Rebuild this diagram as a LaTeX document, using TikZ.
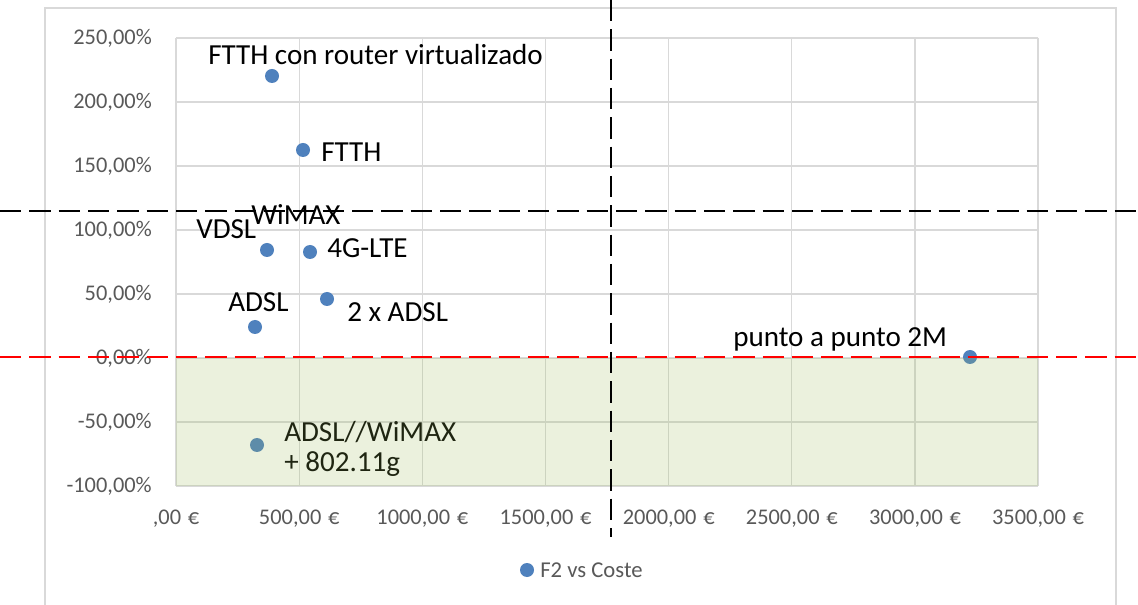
\documentclass[tikz,border=0pt]{standalone}
\usepackage{fontspec}
\setmainfont{Carlito}
\definecolor{gridgray}{HTML}{D9D9D9}
\definecolor{tickgray}{HTML}{595959}
\definecolor{dotblue}{HTML}{4F81BD}
\definecolor{zonegreen}{HTML}{9BBB59}
\begin{document}
\begin{tikzpicture}[x=0.75pt,y=-0.75pt,
  gridline/.style={draw=gridgray,line width=0.9pt},
  ptlabel/.style={font=\fontsize{21.8}{25}\selectfont,text=black,inner sep=0pt},
  ticklabel/.style={font=\fontsize{16.8}{19}\selectfont,text=tickgray,inner sep=0pt},
  datadot/.style={circle,fill=dotblue,minimum size=10.5pt,inner sep=0pt},
  blackdash/.style={draw=black,line width=2.2pt,dash pattern=on 16pt off 6pt},
  reddash/.style={draw=red,line width=2.2pt,dash pattern=on 16pt off 6pt}]
\useasboundingbox (0,0) rectangle (1138,605);
\fill[white] (0,0) rectangle (1138,605);
% chart frame
\draw[gridgray,line width=1.2pt] (45,610) -- (45,8) -- (1116,8) -- (1116,610);
% horizontal gridlines and y tick labels
\foreach \yy/\lab in {38/{250,00\%},102/{200,00\%},166/{150,00\%},230/{100,00\%},294/{50,00\%},358/{0,00\%},422/{-50,00\%},486/{-100,00\%}}{
  \draw[gridline] (176,\yy) -- (1038,\yy);
  \node[ticklabel,anchor=east] at (152,\yy) {\lab};
}
% vertical gridlines and x tick labels
\foreach \xx/\lab in {176/{,00\hspace{0.3em}€},299.2/{500,00\hspace{0.3em}€},422.3/{1000,00\hspace{0.3em}€},545.5/{1500,00\hspace{0.3em}€},668.7/{2000,00\hspace{0.3em}€},791.8/{2500,00\hspace{0.3em}€},915/{3000,00\hspace{0.3em}€},1038/{3500,00\hspace{0.3em}€}}{
  \draw[gridline] (\xx,38) -- (\xx,486);
  \node[ticklabel] at (\xx,519) {\lab};
}
% data points
\node[datadot] (frv) at (272,76) {};
\node[datadot] (ftth) at (303,150) {};
\node[datadot] (vdsl) at (267,250) {};
\node[datadot] (wimax) at (310,252) {};
\node[datadot] (adsl) at (255,327) {};
\node[datadot] (adsl2) at (327,299) {};
\node[datadot] (adslw) at (257,445) {};
\node[datadot] (p2p) at (970,357) {};
% labels
\node[ptlabel,anchor=base west] (lfrv) at (208,65) {FTTH con router virtualizado};
\node[ptlabel,anchor=base west] (lftth) at (321,162) {FTTH};
\node[ptlabel,anchor=base west] (lvdsl) at (196,239) {VDSL};
\node[ptlabel,anchor=base west] (lwimax) at (251,225) {WiMAX};
\node[ptlabel,anchor=base west] (llte) at (327,258) {4G-LTE};
\node[ptlabel,anchor=base west] (ladsl) at (228,312) {ADSL};
\node[ptlabel,anchor=base west] (ladsl2) at (347,322) {2 x ADSL};
\node[ptlabel,anchor=base west] (ladslw) at (284,442) {ADSL//WiMAX};
\node[ptlabel,anchor=base west] (ladslw2) at (284,471) {+ 802.11g};
\node[ptlabel,anchor=base west] (lp2p) at (733,347) {punto a punto 2M};
% green zone overlay
\fill[zonegreen,fill opacity=0.2] (176,358) rectangle (1038,486);
% legend
\node[datadot] (legdot) at (527,570) {};
\node[ticklabel,anchor=west,font=\fontsize{17}{20}\selectfont] (legtxt) at (540,570) {F2 vs Coste};
% dashed threshold lines
\coordinate (hl) at (0,211);
\coordinate (hr) at (1138,211);
\coordinate (vt) at (611,0);
\coordinate (vb) at (611,537);
\coordinate (rl) at (0,357);
\coordinate (rr) at (1138,357);
\draw[blackdash] (hl) -- (hr);
\draw[blackdash] (vt) -- (vb);
\draw[reddash] (rl) -- (rr);
\end{tikzpicture}
\end{document}
